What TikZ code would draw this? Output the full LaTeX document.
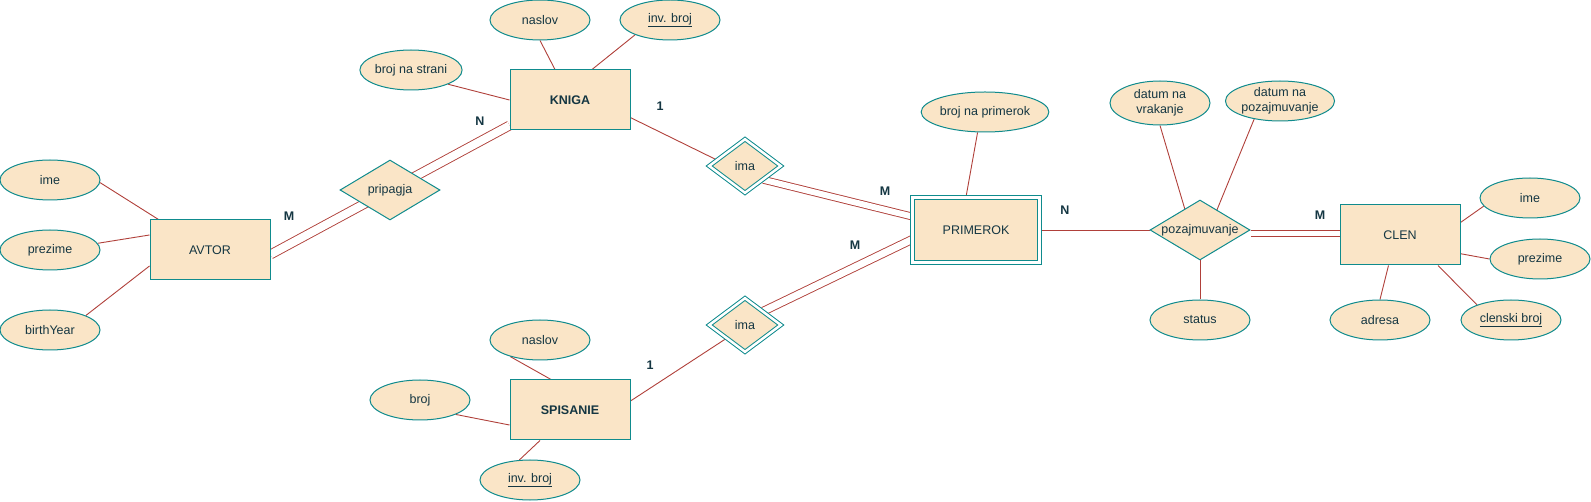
\documentclass[tikz,border=0pt]{standalone}
\usepackage{fontspec}
\setmainfont{Liberation Sans}
\usetikzlibrary{shapes.geometric,backgrounds}
\definecolor{attrfill}{HTML}{FAE5C7}
\definecolor{attrline}{HTML}{0F8B8D}
\definecolor{linkred}{HTML}{B0403A}
\definecolor{labeltext}{HTML}{143642}

\begin{document}
\begin{tikzpicture}[x=1pt, y=-1pt,
        every node/.style={font=\fontsize{12.5}{14}\selectfont, text=labeltext},
        entity/.style={draw=attrline, fill=attrfill, line width=1pt, minimum width=120pt, minimum height=60pt, inner sep=0pt},
        weakentity/.style={entity, double=white, double distance=3pt, minimum width=127pt, minimum height=65pt},
        attr/.style={ellipse, draw=attrline, fill=attrfill, line width=1pt, minimum width=100pt, minimum height=40pt, inner sep=0pt},
        rel/.style={diamond, draw=attrline, fill=attrfill, line width=1pt, minimum width=100pt, minimum height=60pt, inner sep=0pt, aspect=1.67},
        weakrel/.style={rel, double=white, double distance=2.5pt, minimum width=72pt, minimum height=54pt},
        link/.style={draw=linkred, line width=0.9pt},
        dbl/.style={link, double=white, double distance=#1},
        dbl/.default=6pt,
        card/.style={font=\fontsize{12.5}{14}\selectfont\bfseries}]
        \useasboundingbox (0,0) rectangle (1591,502);
        % AVTOR
        \node[entity] (avtor) at (210,250) {AVTOR};
        \node[attr] (avtorime) at (50,180) {ime};
        \node[attr] (avtorprezime) at (50,250) {prezime};
        \node[attr] (birthyear) at (50,330) {birthYear};
        \node[rel] (pripagja) at (390,190) {pripagja};
        % KNIGA
        \node[entity, font=\fontsize{12.5}{14}\selectfont\bfseries] (kniga) at (570,100) {KNIGA};
        \node[attr] (knaslov) at (540,20) {naslov};
        \node[attr] (kinvbroj) at (670,20) {\underline{inv. broj}};
        \node[attr] (brojstrani) at (411,70) {broj na strani};
        \node[weakrel] (imakniga) at (745,166) {ima};
        % PRIMEROK
        \node[weakentity] (primerok) at (976,230) {PRIMEROK};
        \node[attr] (brojprimerok) at (985,112) {broj na primerok};
        \node[weakrel] (imaspisanie) at (745,325) {ima};
        % SPISANIE
        \node[entity, font=\fontsize{12.5}{14}\selectfont\bfseries] (spisanie) at (570,410) {SPISANIE};
        \node[attr] (snaslov) at (540,340) {naslov};
        \node[attr] (sbroj) at (420,400) {broj};
        \node[attr] (sinvbroj) at (530,480) {\underline{inv. broj}};
        % pozajmuvanje
        \node[rel] (pozajm) at (1200,230) {pozajmuvanje};
        \node[attr, minimum height=44pt, align=center, font=\fontsize{12.5}{15}\selectfont] (datumvrak) at (1160,103) {datum na\\vrakanje};
        \node[attr, align=center, font=\fontsize{12.5}{15}\selectfont] (datumpoz) at (1280,101) {datum na\\pozajmuvanje};
        \node[attr] (status) at (1200,320) {status};
        % CLEN
        \node[entity] (clen) at (1400,235) {CLEN};
        \node[attr] (cime) at (1530,198) {ime};
        \node[attr] (cprezime) at (1540,259) {prezime};
        \node[attr] (adresa) at (1380,320) {adresa};
        \node[attr] (clenskibroj) at (1511,320) {\underline{clenski broj}};

        \begin{scope}[on background layer]
            \draw[link] (avtorime.-3) -- ([xshift=9pt]avtor.north west);
            \draw[link] (avtorprezime.8) -- ([yshift=15pt]avtor.west);
            \draw[link] (birthyear.22) -- ([yshift=-16pt]avtor.west);
            \draw[dbl=8pt] ([yshift=-4.5pt]avtor.east) -- ([yshift=-25.5pt]kniga.west);
            \draw[link] (knaslov.south) -- ([xshift=-15pt]kniga.north);
            \draw[link] (kinvbroj.203) -- ([xshift=22pt]kniga.north);
            \draw[link] (brojstrani.-21) -- (kniga.west);
            \draw[link] ([yshift=-17.6pt]kniga.east) -- ([xshift=-24pt,yshift=4pt]imakniga.center);
            \draw[dbl] (imakniga.south east) -- ([yshift=13.5pt]primerok.west);
            \draw[link] (brojprimerok.250) -- ([xshift=-10pt]primerok.north);
            \draw[dbl=7pt] (imaspisanie.north east) -- ([yshift=-9.5pt]primerok.west);
            \draw[link] ([yshift=9pt]spisanie.east) -- ([xshift=-18pt,yshift=-13pt]imaspisanie.center);
            \draw[link] (snaslov.209) -- ([xshift=-19pt]spisanie.north);
            \draw[link] (sbroj.-22) -- ([yshift=-15pt]spisanie.west);
            \draw[link] (sinvbroj.118) -- ([xshift=-30pt]spisanie.south);
            \draw[link] (primerok.east) -- (pozajm.west);
            \draw[link] (datumvrak.south) -- ([xshift=-14pt,yshift=17pt]pozajm.center);
            \draw[link] (datumpoz.215) -- ([xshift=16.5pt,yshift=19pt]pozajm.center);
            \draw[link] (pozajm.south) -- (status.north);
            \draw[dbl=4.5pt] ([yshift=-3.5pt]pozajm.east) -- ([yshift=1.5pt]clen.west);
            \draw[link] ([yshift=12.5pt]clen.east) -- (cime.190);
            \draw[link] ([yshift=-18.7pt]clen.east) -- (cprezime.west);
            \draw[link] ([xshift=-11.5pt]clen.south) -- (adresa.north);
            \draw[link] ([xshift=38pt]clen.south) -- (clenskibroj.156);
        \end{scope}

        % cardinalities
        \node[card] (mavtor) at (289,216) {M};
        \node[card] (nkniga) at (480,121) {N};
        \node[card] (jkniga) at (660,106) {1};
        \node[card] (mprimerokgore) at (885,191) {M};
        \node[card] (mprimerokdolu) at (855,245) {M};
        \node[card] (nprimerok) at (1065,210) {N};
        \node[card] (mclen) at (1320,215) {M};
        \node[card] (jspisanie) at (650,365) {1};
    \end{tikzpicture}
\end{document}
